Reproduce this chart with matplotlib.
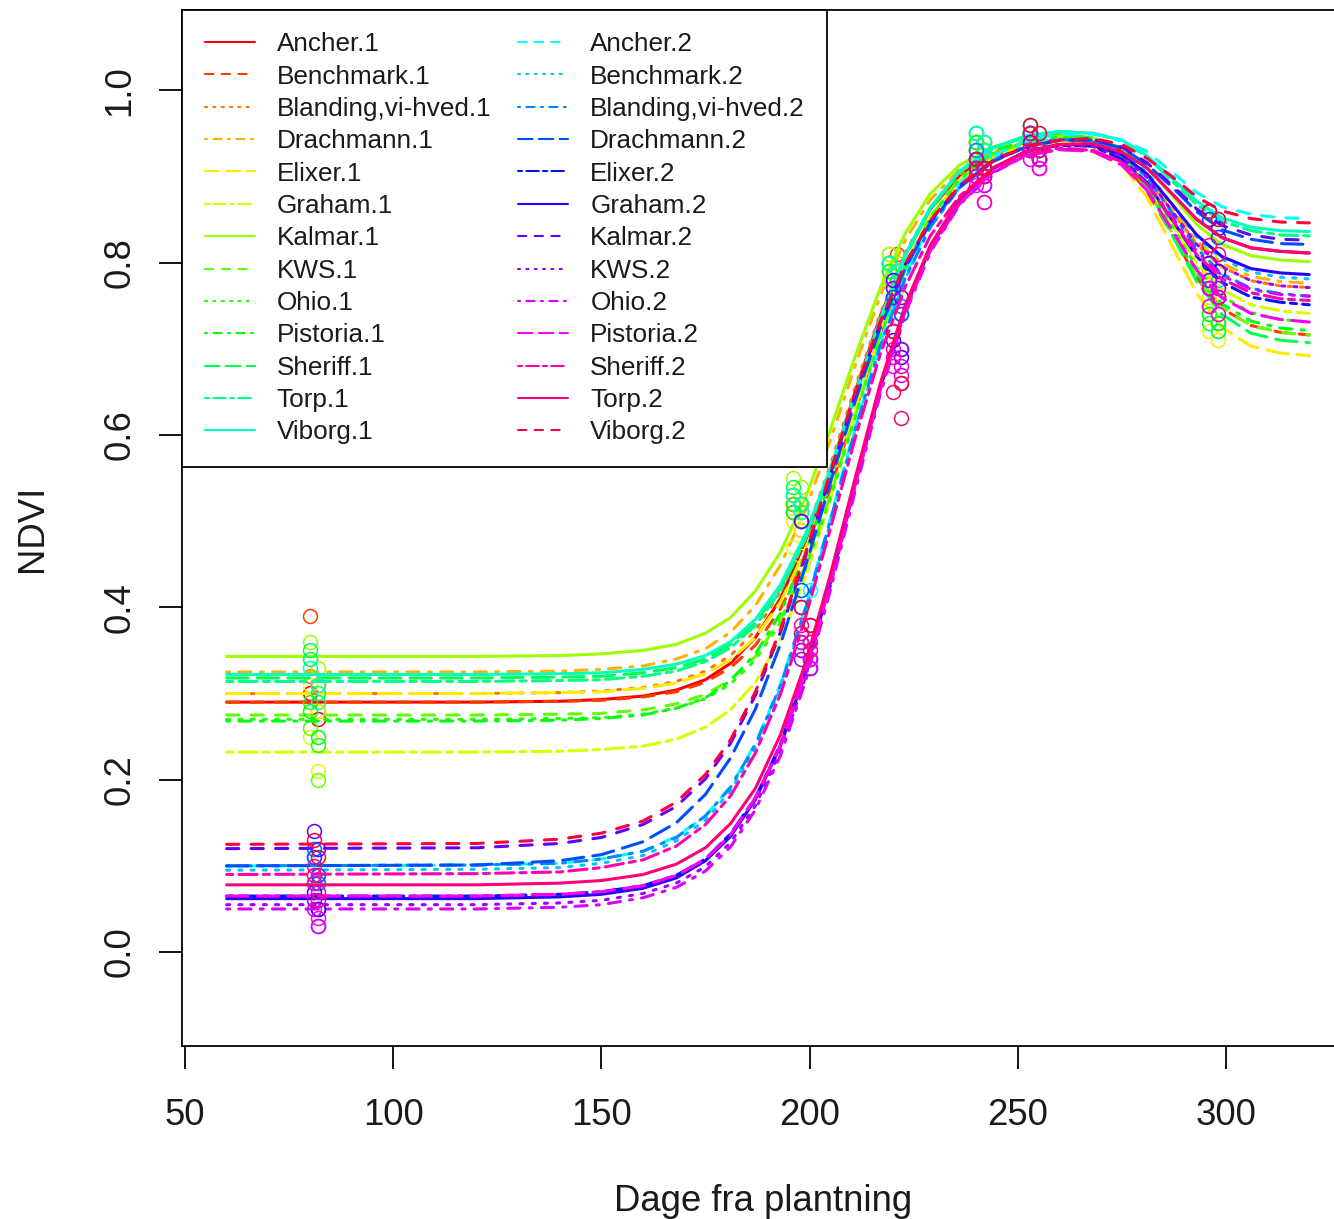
import colorsys
import matplotlib
matplotlib.use("Agg")
import matplotlib.pyplot as plt
from matplotlib.lines import Line2D

plt.rcParams['font.family'] = ['Liberation Sans', 'DejaVu Sans']

# ---------------------------------------------------------------- data
varieties = ["Ancher", "Benchmark", "Blanding,vi-hved", "Drachmann", "Elixer",
             "Graham", "Kalmar", "KWS", "Ohio", "Pistoria", "Sheriff", "Torp",
             "Viborg"]
series_names = [v + ".1" for v in varieties] + [v + ".2" for v in varieties]

# days after planting at which the fitted NDVI curves are tabulated
days = [60, 120, 140, 150, 160, 168, 175, 181, 187, 193, 199, 205, 211, 217, 223,
        229, 236, 244, 252, 260, 268, 275, 281, 287, 293, 299, 306, 313, 320]

ancher_1 = [0.290, 0.290, 0.291, 0.293, 0.297, 0.304, 0.316, 0.335, 0.365, 0.410, 0.477, 0.559,
            0.651, 0.738, 0.809, 0.862, 0.901, 0.926, 0.937, 0.943, 0.940, 0.930, 0.910, 0.880,
            0.850, 0.829, 0.817, 0.813, 0.811]
benchmark_1 = [0.290, 0.290, 0.291, 0.292, 0.296, 0.302, 0.313, 0.330, 0.356, 0.398, 0.458, 0.538,
               0.628, 0.718, 0.794, 0.850, 0.894, 0.922, 0.936, 0.940, 0.935, 0.917, 0.883, 0.833,
               0.782, 0.747, 0.727, 0.719, 0.716]
blanding_1 = [0.300, 0.300, 0.301, 0.303, 0.307, 0.314, 0.326, 0.344, 0.373, 0.418, 0.484, 0.565,
              0.656, 0.741, 0.812, 0.863, 0.902, 0.926, 0.937, 0.942, 0.938, 0.924, 0.899, 0.860,
              0.821, 0.795, 0.779, 0.773, 0.771]
drachmann_1 = [0.325, 0.325, 0.326, 0.328, 0.332, 0.340, 0.352, 0.371, 0.402, 0.449, 0.513, 0.594,
               0.681, 0.762, 0.826, 0.873, 0.908, 0.929, 0.939, 0.942, 0.939, 0.925, 0.900, 0.863,
               0.825, 0.799, 0.784, 0.778, 0.776]
elixer_1 = [0.300, 0.300, 0.301, 0.302, 0.306, 0.312, 0.323, 0.339, 0.365, 0.406, 0.466, 0.544,
            0.633, 0.721, 0.796, 0.852, 0.895, 0.923, 0.936, 0.940, 0.933, 0.913, 0.876, 0.820,
            0.764, 0.725, 0.703, 0.695, 0.692]
graham_1 = [0.232, 0.232, 0.233, 0.235, 0.239, 0.247, 0.261, 0.281, 0.313, 0.363, 0.435, 0.525,
            0.625, 0.720, 0.797, 0.854, 0.897, 0.923, 0.936, 0.941, 0.936, 0.920, 0.890, 0.845,
            0.800, 0.769, 0.751, 0.744, 0.741]
kalmar_1 = [0.343, 0.343, 0.344, 0.346, 0.350, 0.357, 0.370, 0.388, 0.419, 0.464, 0.527, 0.606,
            0.692, 0.771, 0.834, 0.880, 0.913, 0.934, 0.945, 0.948, 0.945, 0.933, 0.911, 0.878,
            0.844, 0.821, 0.808, 0.803, 0.801]
kws_1 = [0.275, 0.275, 0.276, 0.277, 0.281, 0.288, 0.299, 0.316, 0.343, 0.386, 0.448, 0.530,
         0.623, 0.716, 0.794, 0.852, 0.897, 0.926, 0.940, 0.944, 0.939, 0.921, 0.887, 0.835,
         0.783, 0.748, 0.727, 0.719, 0.716]
ohio_1 = [0.270, 0.270, 0.271, 0.272, 0.276, 0.283, 0.294, 0.311, 0.339, 0.382, 0.445, 0.527,
          0.621, 0.714, 0.793, 0.852, 0.897, 0.926, 0.940, 0.945, 0.940, 0.923, 0.891, 0.843,
          0.794, 0.761, 0.742, 0.734, 0.731]
pistoria_1 = [0.268, 0.268, 0.269, 0.271, 0.275, 0.283, 0.295, 0.315, 0.346, 0.393, 0.462, 0.548,
              0.644, 0.734, 0.809, 0.863, 0.904, 0.930, 0.941, 0.946, 0.940, 0.922, 0.888, 0.838,
              0.787, 0.752, 0.732, 0.724, 0.721]
sheriff_1 = [0.318, 0.318, 0.319, 0.320, 0.324, 0.330, 0.340, 0.357, 0.382, 0.423, 0.482, 0.559,
             0.647, 0.734, 0.808, 0.863, 0.905, 0.933, 0.946, 0.950, 0.944, 0.924, 0.887, 0.833,
             0.778, 0.740, 0.718, 0.710, 0.707]
torp_1 = [0.314, 0.314, 0.315, 0.316, 0.320, 0.326, 0.337, 0.353, 0.379, 0.419, 0.479, 0.556,
          0.645, 0.733, 0.807, 0.862, 0.905, 0.933, 0.947, 0.952, 0.950, 0.941, 0.923, 0.895,
          0.867, 0.848, 0.837, 0.832, 0.831]
viborg_1 = [0.322, 0.322, 0.323, 0.324, 0.328, 0.334, 0.344, 0.360, 0.386, 0.426, 0.485, 0.561,
            0.649, 0.735, 0.809, 0.864, 0.906, 0.933, 0.947, 0.952, 0.950, 0.942, 0.924, 0.898,
            0.871, 0.852, 0.841, 0.837, 0.836]
ancher_2 = [0.100, 0.101, 0.103, 0.108, 0.117, 0.134, 0.158, 0.192, 0.242, 0.311, 0.400, 0.503,
            0.610, 0.707, 0.786, 0.846, 0.892, 0.924, 0.941, 0.949, 0.949, 0.942, 0.929, 0.905,
            0.881, 0.865, 0.856, 0.852, 0.851]
benchmark_2 = [0.095, 0.096, 0.098, 0.103, 0.112, 0.129, 0.153, 0.187, 0.237, 0.306, 0.395, 0.498,
               0.605, 0.702, 0.781, 0.841, 0.887, 0.919, 0.935, 0.943, 0.941, 0.929, 0.905, 0.868,
               0.830, 0.804, 0.789, 0.783, 0.781]
blanding_2 = [0.100, 0.101, 0.103, 0.108, 0.117, 0.133, 0.158, 0.191, 0.241, 0.309, 0.398, 0.501,
              0.607, 0.704, 0.782, 0.841, 0.887, 0.919, 0.935, 0.943, 0.940, 0.926, 0.899, 0.858,
              0.816, 0.787, 0.770, 0.764, 0.761]
drachmann_2 = [0.100, 0.101, 0.106, 0.113, 0.128, 0.150, 0.183, 0.225, 0.282, 0.357, 0.447, 0.545,
               0.640, 0.725, 0.794, 0.846, 0.887, 0.917, 0.934, 0.942, 0.942, 0.933, 0.914, 0.888,
               0.859, 0.838, 0.827, 0.822, 0.821]
elixer_2 = [0.065, 0.065, 0.067, 0.070, 0.077, 0.089, 0.108, 0.137, 0.179, 0.241, 0.326, 0.431,
            0.546, 0.656, 0.748, 0.818, 0.873, 0.909, 0.929, 0.936, 0.935, 0.920, 0.893, 0.850,
            0.807, 0.777, 0.760, 0.754, 0.751]
graham_2 = [0.062, 0.062, 0.064, 0.067, 0.074, 0.086, 0.106, 0.134, 0.177, 0.239, 0.324, 0.429,
            0.544, 0.655, 0.748, 0.818, 0.873, 0.909, 0.929, 0.937, 0.936, 0.925, 0.903, 0.868,
            0.832, 0.807, 0.793, 0.788, 0.786]
kalmar_2 = [0.120, 0.121, 0.126, 0.133, 0.148, 0.169, 0.201, 0.242, 0.298, 0.371, 0.459, 0.554,
            0.648, 0.730, 0.798, 0.848, 0.889, 0.918, 0.934, 0.942, 0.943, 0.934, 0.916, 0.890,
            0.862, 0.843, 0.832, 0.827, 0.826]
kws_2 = [0.055, 0.055, 0.057, 0.060, 0.068, 0.080, 0.099, 0.127, 0.170, 0.233, 0.319, 0.425,
         0.541, 0.653, 0.746, 0.817, 0.872, 0.909, 0.929, 0.937, 0.935, 0.923, 0.899, 0.860,
         0.821, 0.795, 0.779, 0.773, 0.771]
ohio_2 = [0.050, 0.050, 0.052, 0.055, 0.063, 0.075, 0.094, 0.122, 0.165, 0.228, 0.314, 0.420,
          0.536, 0.648, 0.741, 0.812, 0.867, 0.904, 0.924, 0.931, 0.930, 0.917, 0.892, 0.853,
          0.813, 0.785, 0.769, 0.763, 0.761]
pistoria_2 = [0.065, 0.065, 0.067, 0.070, 0.077, 0.089, 0.108, 0.136, 0.179, 0.240, 0.325, 0.428,
              0.543, 0.653, 0.744, 0.814, 0.868, 0.905, 0.924, 0.931, 0.929, 0.913, 0.884, 0.838,
              0.791, 0.759, 0.741, 0.734, 0.731]
sheriff_2 = [0.090, 0.091, 0.093, 0.098, 0.107, 0.123, 0.148, 0.181, 0.231, 0.299, 0.388, 0.491,
             0.597, 0.694, 0.772, 0.831, 0.877, 0.909, 0.925, 0.933, 0.930, 0.917, 0.891, 0.850,
             0.809, 0.781, 0.765, 0.758, 0.756]
torp_2 = [0.078, 0.078, 0.080, 0.083, 0.090, 0.102, 0.121, 0.149, 0.190, 0.252, 0.335, 0.438,
          0.551, 0.660, 0.751, 0.820, 0.874, 0.910, 0.929, 0.937, 0.938, 0.928, 0.910, 0.880,
          0.850, 0.829, 0.817, 0.813, 0.811]
viborg_2 = [0.125, 0.126, 0.131, 0.138, 0.152, 0.174, 0.206, 0.246, 0.302, 0.374, 0.462, 0.557,
            0.650, 0.732, 0.799, 0.849, 0.889, 0.918, 0.935, 0.942, 0.944, 0.937, 0.921, 0.900,
            0.876, 0.860, 0.851, 0.847, 0.846]

fitted = [ancher_1, benchmark_1, blanding_1, drachmann_1, elixer_1, graham_1, kalmar_1,
          kws_1, ohio_1, pistoria_1, sheriff_1, torp_1, viborg_1,
          ancher_2, benchmark_2, blanding_2, drachmann_2, elixer_2, graham_2, kalmar_2,
          kws_2, ohio_2, pistoria_2, sheriff_2, torp_2, viborg_2]

# measurement dates of the two replicate plots
obs_days_1 = [(80, 82), (196, 198), (219, 221), (240, 242), (253, 255), (296, 298)]
obs_days_2 = [(81, 82), (198, 200), (220, 222), (240, 242), (253, 255), (296, 298)]

ancher_1_obs = [(0.30, 0.27), (0.52, 0.50), (0.80, 0.78), (0.93, 0.92), (0.95, 0.94), (0.80, 0.79)]
benchmark_1_obs = [(0.39, 0.31), (0.51, 0.49), (0.79, 0.81), (0.92, 0.94), (0.96, 0.94), (0.75, 0.73)]
blanding_1_obs = [(0.32, 0.28), (0.52, 0.50), (0.80, 0.79), (0.93, 0.91), (0.95, 0.93), (0.78, 0.77)]
drachmann_1_obs = [(0.34, 0.31), (0.53, 0.52), (0.81, 0.79), (0.94, 0.93), (0.95, 0.94), (0.79, 0.76)]
elixer_1_obs = [(0.31, 0.28), (0.50, 0.49), (0.79, 0.80), (0.93, 0.92), (0.94, 0.93), (0.72, 0.71)]
graham_1_obs = [(0.25, 0.21), (0.47, 0.46), (0.78, 0.77), (0.92, 0.91), (0.94, 0.93), (0.76, 0.74)]
kalmar_1_obs = [(0.36, 0.33), (0.55, 0.54), (0.81, 0.80), (0.95, 0.94), (0.95, 0.94), (0.81, 0.78)]
kws_1_obs = [(0.26, 0.20), (0.53, 0.51), (0.80, 0.79), (0.94, 0.93), (0.95, 0.94), (0.74, 0.72)]
ohio_1_obs = [(0.29, 0.24), (0.52, 0.50), (0.80, 0.79), (0.94, 0.93), (0.95, 0.94), (0.75, 0.73)]
pistoria_1_obs = [(0.28, 0.25), (0.51, 0.50), (0.79, 0.78), (0.94, 0.92), (0.95, 0.93), (0.74, 0.73)]
sheriff_1_obs = [(0.35, 0.30), (0.54, 0.52), (0.80, 0.79), (0.95, 0.94), (0.95, 0.94), (0.73, 0.72)]
torp_1_obs = [(0.34, 0.29), (0.53, 0.52), (0.80, 0.79), (0.95, 0.93), (0.96, 0.94), (0.85, 0.83)]
viborg_1_obs = [(0.33, 0.31), (0.53, 0.51), (0.80, 0.79), (0.95, 0.94), (0.96, 0.95), (0.86, 0.84)]
ancher_2_obs = [(0.12, 0.09), (0.37, 0.42), (0.78, 0.75), (0.93, 0.92), (0.95, 0.94), (0.86, 0.85)]
benchmark_2_obs = [(0.11, 0.08), (0.40, 0.36), (0.76, 0.74), (0.92, 0.91), (0.95, 0.93), (0.80, 0.78)]
blanding_2_obs = [(0.12, 0.08), (0.40, 0.38), (0.77, 0.75), (0.93, 0.91), (0.94, 0.93), (0.78, 0.76)]
drachmann_2_obs = [(0.11, 0.09), (0.42, 0.38), (0.76, 0.74), (0.92, 0.91), (0.95, 0.93), (0.85, 0.83)]
elixer_2_obs = [(0.08, 0.05), (0.36, 0.34), (0.72, 0.70), (0.91, 0.90), (0.93, 0.92), (0.77, 0.76)]
graham_2_obs = [(0.07, 0.05), (0.35, 0.33), (0.71, 0.69), (0.91, 0.90), (0.93, 0.92), (0.80, 0.79)]
kalmar_2_obs = [(0.14, 0.12), (0.50, 0.34), (0.78, 0.76), (0.92, 0.91), (0.94, 0.92), (0.86, 0.84)]
kws_2_obs = [(0.06, 0.03), (0.34, 0.33), (0.77, 0.70), (0.90, 0.89), (0.93, 0.92), (0.78, 0.77)]
ohio_2_obs = [(0.05, 0.03), (0.35, 0.33), (0.69, 0.67), (0.90, 0.89), (0.92, 0.91), (0.77, 0.76)]
pistoria_2_obs = [(0.08, 0.04), (0.36, 0.34), (0.68, 0.66), (0.89, 0.87), (0.93, 0.91), (0.75, 0.74)]
sheriff_2_obs = [(0.10, 0.07), (0.38, 0.36), (0.70, 0.68), (0.90, 0.87), (0.93, 0.92), (0.77, 0.76)]
torp_2_obs = [(0.09, 0.06), (0.37, 0.35), (0.65, 0.62), (0.91, 0.90), (0.95, 0.93), (0.82, 0.81)]
viborg_2_obs = [(0.13, 0.11), (0.40, 0.38), (0.72, 0.66), (0.92, 0.91), (0.96, 0.95), (0.86, 0.85)]

observed = [ancher_1_obs, benchmark_1_obs, blanding_1_obs, drachmann_1_obs, elixer_1_obs,
            graham_1_obs, kalmar_1_obs, kws_1_obs, ohio_1_obs, pistoria_1_obs, sheriff_1_obs,
            torp_1_obs, viborg_1_obs,
            ancher_2_obs, benchmark_2_obs, blanding_2_obs, drachmann_2_obs, elixer_2_obs,
            graham_2_obs, kalmar_2_obs, kws_2_obs, ohio_2_obs, pistoria_2_obs, sheriff_2_obs,
            torp_2_obs, viborg_2_obs]

x_ticks = [50, 100, 150, 200, 250, 300]
y_ticks = [0.0, 0.2, 0.4, 0.6, 0.8, 1.0]
y_tick_labels = ["0.0", "0.2", "0.4", "0.6", "0.8", "1.0"]

# ---------------------------------------------------------------- style
n = len(series_names)
colors = [colorsys.hsv_to_rgb(i / n, 1.0, 1.0) for i in range(n)]
# solid, dashed, dotted, dotdash, longdash, twodash (cycled)
line_types = ['-', (0, (4, 4)), (0, (1, 3)), (0, (1, 3, 4, 3)), (0, (7, 3)), (0, (2, 2, 6, 2))]

FS = 26.3
TXT = '#1a1a1a'

fig = plt.figure(figsize=(13.34, 12.19), dpi=100)
ax = fig.add_axes([0.1368, 0.1419, 0.8771, 0.8499])

for i in range(n):
    c = colors[i]
    ls = line_types[i % len(line_types)]
    od = obs_days_1 if i < 13 else obs_days_2
    for rep in range(2):
        ax.plot([d[rep] for d in od], [pair[rep] for pair in observed[i]],
                linestyle='none', marker='o', ms=10, mfc='none', mec=c, mew=1.1,
                zorder=2 + 2 * i)
    ax.plot(days, fitted[i], color=c, lw=2.2, linestyle=ls,
            dash_capstyle='round', solid_capstyle='round', zorder=3 + 2 * i)

ax.set_xlim(49.4, 330.4)
ax.set_ylim(-0.109, 1.093)
ax.set_xticks(x_ticks)
ax.set_xticklabels([str(v) for v in x_ticks])
ax.set_yticks(y_ticks)
ax.set_yticklabels(y_tick_labels, rotation=90, va='center')

ax.tick_params(axis='both', direction='out', length=16.5, width=1.3, color='black',
               labelsize=FS, labelcolor=TXT)
ax.tick_params(axis='x', pad=21)
ax.tick_params(axis='y', pad=16)

for sp in ax.spines.values():
    sp.set_linewidth(1.3)
    sp.set_color('black')

ax.set_xlabel("Dage fra plantning", fontsize=FS, color=TXT)
ax.set_ylabel("NDVI", fontsize=FS, color=TXT)
ax.xaxis.set_label_coords(0.496, -0.1332)
ax.yaxis.set_label_coords(-0.1136, 0.5)

handles = [Line2D([], [], color=colors[i], lw=1.5, linestyle=line_types[i % 6],
                  dash_capstyle='round', solid_capstyle='round') for i in range(n)]
leg = ax.legend(handles, series_names, loc='upper left', bbox_to_anchor=(0, 1),
                borderaxespad=0, ncol=2, fontsize=18.8, frameon=True, fancybox=False,
                framealpha=1, edgecolor='black', handlelength=1.92, handletextpad=0.84,
                columnspacing=1.03, labelspacing=0.32, borderpad=0.85)
leg.get_frame().set_linewidth(1.3)
leg.set_zorder(100)
for t in leg.get_texts():
    t.set_color(TXT)

fig.savefig("out.png", dpi=100)
